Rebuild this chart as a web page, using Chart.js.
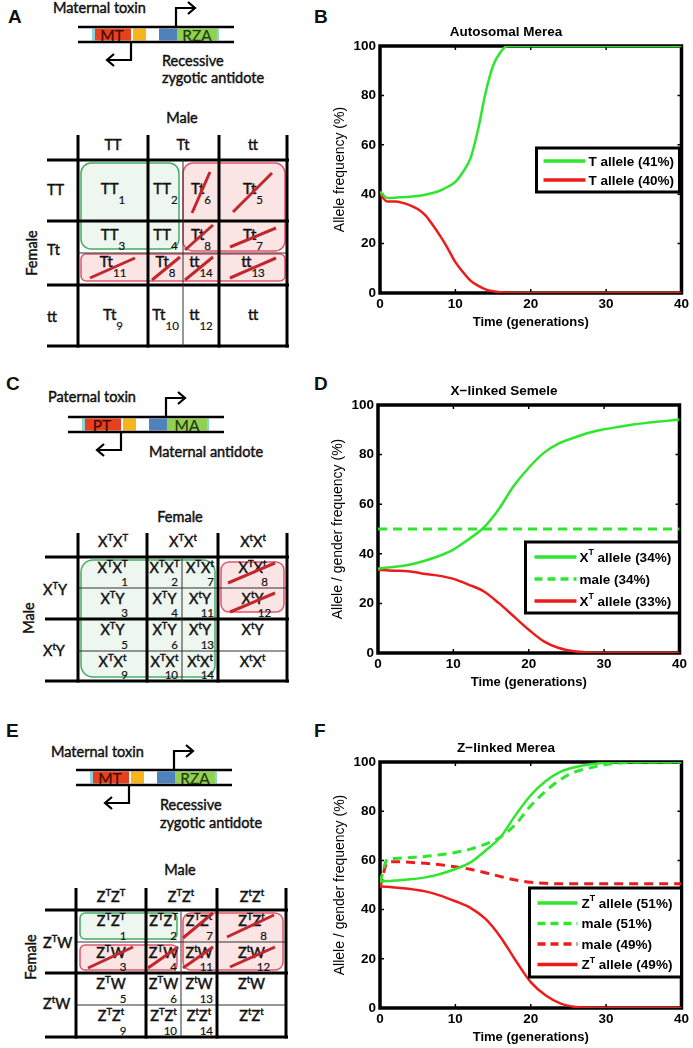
<!DOCTYPE html>
<html>
<head>
<meta charset="utf-8">
<script src="https://cdn.jsdelivr.net/npm/chart.js@4.4.0/dist/chart.umd.min.js"></script>
<style>
  body { margin: 0; background: #fff; width: 693px; height: 1048px; position: relative; overflow: hidden; }
  canvas { position: absolute; }
  #dia { position: absolute; left: 0; top: 0; }
</style>
</head>
<body>
<svg id="dia" width="340" height="1048" xmlns="http://www.w3.org/2000/svg"></svg>
<canvas id="chartB" width="362" height="316" style="left:330px;top:18px"></canvas>
<canvas id="chartD" width="362" height="317" style="left:328px;top:377px"></canvas>
<canvas id="chartF" width="362" height="315" style="left:330px;top:734px"></canvas>
<script>
// ---- values ----
const genB = [0, 1, 2, 3, 4, 5, 6, 7, 8, 9, 10, 11, 12, 13, 14, 15, 16, 17, 18, 19, 20, 25, 30, 35, 40];
const tAlleleB = [41, 38.5, 38.6, 38.8, 39, 39.3, 39.8, 40.5, 41.5, 43, 45, 49, 54.5, 66, 81, 92, 97.6, 100, 100, 100, 100, 100, 100, 100, 100];
const tAlleleB2 = [40, 37, 37, 36.5, 35.5, 34, 31.5, 27.5, 23, 18, 12.5, 8.5, 5, 3, 1.5, 0.7, 0.3, 0.1, 0, 0, 0, 0, 0, 0, 0];

const genD = [0, 2, 4, 6, 8, 10, 12, 14, 16, 18, 20, 22, 24, 26, 28, 30, 32, 34, 36, 38, 40];
const xAlleleD = [34, 34.7, 35.5, 37, 39, 41.7, 45.8, 50.5, 57.9, 67.3, 74.7, 80.7, 84.5, 86.8, 88.8, 90.2, 91.2, 92.2, 92.9, 93.5, 94.2];
const maleD = [50, 50, 50, 50, 50, 50, 50, 50, 50, 50, 50, 50, 50, 50, 50, 50, 50, 50, 50, 50, 50];
const xAlleleD2 = [33.6, 33.2, 33, 32, 31.2, 29.9, 27.6, 24.9, 20.2, 14.8, 9.4, 4.7, 2, 0.7, 0.2, 0, 0, 0, 0, 0, 0];

const genF = [0, 1, 2, 4, 6, 8, 10, 12, 14, 16, 18, 20, 22, 24, 26, 28, 30, 32, 34, 36, 38, 40];
const zAlleleF = [51.4, 51.6, 51.8, 52.3, 53.1, 54.5, 56.5, 59.2, 64, 69.5, 78.5, 86.5, 92.3, 96.1, 98, 99.1, 99.7, 100, 100, 100, 100, 100];
const maleF = [51, 60.5, 60.8, 61.2, 61.6, 62.3, 63.2, 64.6, 66.6, 69.5, 74.7, 82.2, 88.2, 93, 96.1, 97.7, 99, 99.6, 100, 100, 100, 100];
const maleF2 = [49, 59.2, 59.5, 59.2, 58.8, 58.2, 57.4, 56.4, 55, 53.4, 52, 51.1, 50.7, 50.5, 50.5, 50.5, 50.5, 50.5, 50.5, 50.5, 50.5, 50.5];
const zAlleleF2 = [49.5, 49.3, 49, 48.4, 47.4, 45.7, 43.4, 40.7, 36.2, 28.8, 19.3, 10.5, 5.1, 1.8, 0.4, 0.1, 0, 0, 0, 0, 0, 0];

const xTicks = [0, 10, 20, 30, 40];
const yTicks = [0, 20, 40, 60, 80, 100];

const labelsB = ['T allele (41%)', 'T allele (40%)'];
const labelsD = ['X^T allele (34%)', 'male (34%)', 'X^T allele (33%)'];
const labelsF = ['Z^T allele (51%)', 'male (51%)', 'male (49%)', 'Z^T allele (49%)'];

const GREEN = '#2ee62e';
const RED = '#ee1b1b';
const AX = 'Liberation Sans, Arial, sans-serif';

// text with ^X superscripts on a canvas
function richCanvas(ctx, s, x, y, size) {
  let cx = x;
  for (let i = 0; i < s.length; i++) {
    if (s[i] === '^') {
      ctx.font = 'bold ' + (size * 0.65) + 'px ' + AX;
      ctx.fillText(s[i + 1], cx, y - size * 0.4);
      cx += ctx.measureText(s[i + 1]).width;
      i++;
    } else {
      let j = i;
      while (j < s.length && s[j] !== '^') j++;
      const seg = s.slice(i, j);
      ctx.font = 'bold ' + size + 'px ' + AX;
      ctx.fillText(seg, cx, y);
      cx += ctx.measureText(seg).width;
      i = j - 1;
    }
  }
}

const framePlugin = {
  id: 'frame',
  beforeDatasetsDraw(chart) {
    const { ctx, chartArea: a, scales } = chart;
    ctx.save();
    ctx.strokeStyle = '#000';
    ctx.lineWidth = 3.5;
    ctx.strokeRect(a.left, a.top, a.right - a.left, a.bottom - a.top);
    ctx.lineWidth = 1.5;
    ctx.beginPath();
    scales.x.ticks.forEach(t => {
      const p = scales.x.getPixelForValue(t.value);
      ctx.moveTo(p, a.bottom); ctx.lineTo(p, a.bottom - 4);
      ctx.moveTo(p, a.top); ctx.lineTo(p, a.top + 4);
    });
    scales.y.ticks.forEach(t => {
      const p = scales.y.getPixelForValue(t.value);
      ctx.moveTo(a.left, p); ctx.lineTo(a.left + 4, p);
      ctx.moveTo(a.right, p); ctx.lineTo(a.right - 4, p);
    });
    ctx.stroke();
    ctx.restore();
  },
  afterDatasetsDraw(chart, args, o) {
    const { ctx, chartArea: a } = chart;
    const bx = a.right + o.left, by = a.top + o.top;
    ctx.save();
    ctx.fillStyle = '#fff';
    ctx.fillRect(bx, by, o.width, o.height);
    ctx.strokeStyle = '#000';
    ctx.lineWidth = 3;
    ctx.strokeRect(bx, by, o.width, o.height);
    chart.data.datasets.forEach((ds, i) => {
      const y = by + o.rows[i];
      ctx.strokeStyle = ds.borderColor;
      ctx.lineWidth = 3.5;
      ctx.setLineDash(ds.borderDash.length ? [8, 5] : []);
      ctx.beginPath();
      ctx.moveTo(bx + o.lineFrom, y);
      ctx.lineTo(bx + o.lineTo, y);
      ctx.stroke();
      ctx.setLineDash([]);
      ctx.fillStyle = '#000';
      ctx.textBaseline = 'middle';
      richCanvas(ctx, ds.label, bx + o.textX, y + 1, 13.5);
    });
    ctx.restore();
  }
};

function series(gen, vals, label, color, dash) {
  return {
    label: label,
    data: gen.map((g, i) => ({ x: g, y: vals[i] })),
    borderColor: color,
    borderWidth: dash ? 3 : 2.5,
    borderDash: dash || [],
    pointRadius: 0,
    fill: false,
    cubicInterpolationMode: 'monotone'
  };
}

function makeChart(id, title, yTitle, datasets, box) {
  new Chart(document.getElementById(id), {
    type: 'line',
    data: { datasets: datasets },
    plugins: [framePlugin],
    options: {
      responsive: false,
      animation: false,
      layout: { padding: { right: 10 } },
      plugins: {
        legend: { display: false },
        tooltip: { enabled: false },
        title: {
          display: true, text: title, color: '#000',
          font: { family: AX, size: 13.5, weight: 'bold' },
          padding: { top: 6, bottom: 5.8 }
        },
        frame: box
      },
      scales: {
        x: {
          type: 'linear', min: 0, max: 40,
          afterBuildTicks: s => { s.ticks = xTicks.map(v => ({ value: v })); },
          ticks: { color: '#000', font: { family: AX, size: 13.5, weight: 'bold' }, padding: 3, maxRotation: 0 },
          grid: { display: false, drawTicks: false },
          border: { display: false },
          title: { display: true, text: 'Time (generations)', color: '#000', font: { family: AX, size: 13, weight: 'bold' }, padding: { top: 0, bottom: 4 } },
          afterFit: s => { s.height = 41; }
        },
        y: {
          min: 0, max: 100,
          afterBuildTicks: s => { s.ticks = yTicks.map(v => ({ value: v })); },
          ticks: { color: '#000', font: { family: AX, size: 13.5, weight: 'bold' }, padding: 4 },
          grid: { display: false, drawTicks: false },
          border: { display: false },
          title: { display: true, text: yTitle, color: '#000', font: { family: AX, size: 14 }, padding: { top: 1.5, bottom: 0 } },
          afterFit: s => { s.width = 50; }
        }
      }
    }
  });
}

makeChart('chartB', 'Autosomal Merea', 'Allele frequency (%)', [
  series(genB, tAlleleB, labelsB[0], GREEN),
  series(genB, tAlleleB2, labelsB[1], RED)
], { left: -145, top: 102, width: 143, height: 44, rows: [13, 32], lineFrom: 7, lineTo: 49, textX: 52 });

makeChart('chartD', 'X\u2212linked Semele', 'Allele / gender frequency (%)', [
  series(genD, xAlleleD, labelsD[0], GREEN),
  series(genD, maleD, labelsD[1], GREEN, [9, 6]),
  series(genD, xAlleleD2, labelsD[2], RED)
], { left: -154, top: 137, width: 154, height: 71, rows: [15, 37, 59], lineFrom: 9, lineTo: 51, textX: 54 });

makeChart('chartF', 'Z\u2212linked Merea', 'Allele / gender frequency (%)', [
  series(genF, zAlleleF, labelsF[0], GREEN),
  series(genF, maleF, labelsF[1], GREEN, [9, 6]),
  series(genF, maleF2, labelsF[2], RED, [9, 6]),
  series(genF, zAlleleF2, labelsF[3], RED)
], { left: -152, top: 126, width: 152, height: 89, rows: [15, 35.5, 56, 76.5], lineFrom: 8, lineTo: 48, textX: 52 });

// ---- left-hand diagrams (SVG) ----
const S = [];
const FT = 'Lato, Open Sans, sans-serif';
const HEAVY = 'stroke="#111" stroke-width="0.45"';

function rich(s, sup) {
  let h = '', shift = 0;
  for (let i = 0; i < s.length; i++) {
    if (s[i] === '^') {
      h += '<tspan dy="' + (-6 - shift) + '" font-size="' + sup + '">' + s[i + 1] + '</tspan>';
      shift = -6; i++;
    } else {
      let j = i;
      while (j < s.length && s[j] !== '^') j++;
      h += '<tspan dy="' + (-shift) + '">' + s.slice(i, j) + '</tspan>';
      shift = 0; i = j - 1;
    }
  }
  return h;
}
function ln(x1, y1, x2, y2, w, c) {
  S.push('<line x1="' + x1 + '" y1="' + y1 + '" x2="' + x2 + '" y2="' + y2 + '" stroke="' + (c || '#000') + '" stroke-width="' + w + '"/>');
}
function tx(x, y, s, o) {
  o = o || {};
  const fill = o.fill || '#111';
  S.push('<text x="' + x + '" y="' + y + '" font-family="' + FT + '" font-size="' + (o.size || 14.5) + '" text-anchor="' + (o.anchor || 'start') +
    '" fill="' + fill + '" stroke="' + fill + '" stroke-width="' + (o.sw === undefined ? 0.45 : o.sw) + '">' + rich(s, o.sup || 9.5) + '</text>');
}
function letter(x, y, s) {
  S.push('<text x="' + x + '" y="' + y + '" font-family="' + AX + '" font-weight="bold" font-size="19" fill="#111">' + s + '</text>');
}
function rect(x, y, w, h, c) {
  S.push('<rect x="' + x + '" y="' + y + '" width="' + w + '" height="' + h + '" fill="' + c + '"/>');
}
function rr(x1, y1, x2, y2, r, kind) {
  const c = kind === 'g' ? ['#44ad63', '#eef6f0'] : ['#e0566b', '#fbe4e4'];
  S.push('<rect x="' + x1 + '" y="' + y1 + '" width="' + (x2 - x1) + '" height="' + (y2 - y1) + '" rx="' + r + '" fill="' + c[1] + '" stroke="' + c[0] + '" stroke-width="1.5"/>');
}
function slash(x1, y1, x2, y2) { ln(x1, y1, x2, y2, 3, '#c1272d'); }
function rot(x, y, s) {
  S.push('<text x="' + x + '" y="' + y + '" font-family="' + FT + '" font-size="14.5" text-anchor="middle" dominant-baseline="central" fill="#111" ' + HEAVY + ' transform="rotate(-90 ' + x + ' ' + y + ')">' + s + '</text>');
}
function gene(x0, y0, tox, anti) {
  const yt = y0 + 1.5, h = 12;
  rect(x0 + 14, yt, 3, h, '#8fd3e0');
  rect(x0 + 17, yt, 36, h, '#e8401c');
  rect(x0 + 55, yt, 13, h, '#f7b51b');
  rect(x0 + 81, yt, 18, h, '#4f81bd');
  rect(x0 + 99, yt, 40, h, '#92d050');
  rect(x0 + 139, yt, 2, h, '#8fd3e0');
  ln(x0, y0, x0 + 156, y0, 2.5);
  ln(x0, y0 + 15, x0 + 156, y0 + 15, 2.5);
  tx(x0 + 34, y0 + 14, tox, { anchor: 'middle', fill: '#3a0a0a', size: 15.5, sw: 0.2 });
  tx(x0 + 119, y0 + 14, anti, { anchor: 'middle', fill: '#1e3b0e', size: 15.5, sw: 0.2 });
  S.push('<path d="M' + (x0 + 98) + ' ' + y0 + ' V' + (y0 - 19) + ' H' + (x0 + 116) + '" fill="none" stroke="#000" stroke-width="2.2"/>');
  S.push('<path d="M' + (x0 + 110) + ' ' + (y0 - 25) + ' L' + (x0 + 117) + ' ' + (y0 - 19) + ' L' + (x0 + 110) + ' ' + (y0 - 13) + '" fill="none" stroke="#000" stroke-width="2.2"/>');
  S.push('<path d="M' + (x0 + 53) + ' ' + (y0 + 15) + ' V' + (y0 + 33) + ' H' + (x0 + 30) + '" fill="none" stroke="#000" stroke-width="2.2"/>');
  S.push('<path d="M' + (x0 + 36) + ' ' + (y0 + 27) + ' L' + (x0 + 29) + ' ' + (y0 + 33) + ' L' + (x0 + 36) + ' ' + (y0 + 39) + '" fill="none" stroke="#000" stroke-width="2.2"/>');
}
function cen(cols, i) { return (cols[i] + cols[i + 1]) / 2; }
function subCell(cols, i, y, s, n) {
  S.push('<text x="' + cen(cols, i) + '" y="' + y + '" text-anchor="middle" font-family="' + FT + '" font-size="15" fill="#111" ' + HEAVY + '>' + s +
    (n ? '<tspan dy="10" font-size="11.5" stroke-width="0.2">' + n + '</tspan>' : '') + '</text>');
}
function cornerCell(cols, i, top, bot, s, n) {
  tx(cen(cols, i), top + 16, s, { anchor: 'middle' });
  if (n) {
    if (i === 0 || i === 3) tx(cen(cols, i) + 12, bot - 2, n, { anchor: 'middle', size: 11.5, sw: 0.2 });
    else tx(cols[i + 1] - 4, bot - 2, n, { anchor: 'end', size: 11.5, sw: 0.2 });
  }
}
function grid(cols, top, head, rowsThick, rowsThin, left) {
  const last = rowsThick[rowsThick.length - 1];
  rowsThick.forEach(y => ln(left, y, cols[4] + 2, y, 3));
  rowsThin.forEach(y => ln(cols[0], y, cols[4], y, 1, '#333'));
  [0, 1, 3, 4].forEach(i => ln(cols[i], top, cols[i], last + 1.5, 3));
  ln(cols[2], head, cols[2], last, 1, '#333');
}

// panel letters
letter(8, 23, 'A'); letter(314, 23, 'B');
letter(6, 390, 'C'); letter(314, 390, 'D');
letter(6, 737, 'E'); letter(314, 737, 'F');

// ---- A ----
tx(53, 13, 'Maternal toxin');
gene(78, 27, 'MT', 'RZA');
tx(162, 66, 'Recessive');
tx(162, 83, 'zygotic antidote');
tx(182, 123, 'Male', { anchor: 'middle' });
const colsA = [78, 148, 183, 219, 287];
rr(81, 163, 179, 249, 10, 'g');
rr(183, 163, 285, 251, 10, 'r');
rr(81, 254, 285, 281, 5, 'r');
grid(colsA, 135, 160, [160, 221, 285, 346], [253], 47);
tx(113, 150, 'TT', { anchor: 'middle' }); tx(183, 150, 'Tt', { anchor: 'middle' }); tx(253, 150, 'tt', { anchor: 'middle' });
tx(47, 195, 'TT'); tx(47, 255, 'Tt'); tx(47, 322, 'tt');
rot(31, 253, 'Female');
subCell(colsA, 0, 194, 'TT', '1'); subCell(colsA, 1, 194, 'TT', '2'); subCell(colsA, 2, 194, 'Tt', '6'); subCell(colsA, 3, 194, 'Tt', '5');
subCell(colsA, 0, 240, 'TT', '3'); subCell(colsA, 1, 240, 'TT', '4'); subCell(colsA, 2, 240, 'Tt', '8'); subCell(colsA, 3, 240, 'Tt', '7');
subCell(colsA, 0, 267, 'Tt', '11'); subCell(colsA, 1, 267, 'Tt', '8'); subCell(colsA, 2, 267, 'tt', '14'); subCell(colsA, 3, 267, 'tt', '13');
subCell(colsA, 0, 320, 'Tt', '9'); subCell(colsA, 1, 320, 'Tt', '10'); subCell(colsA, 2, 320, 'tt', '12'); subCell(colsA, 3, 320, 'tt', '');
slash(192, 213, 210, 172); slash(233, 212, 272, 173);
slash(185, 250, 213, 225); slash(230, 247, 276, 228);
slash(90, 278, 135, 258); slash(152, 280, 180, 257); slash(185, 280, 213, 257); slash(230, 278, 276, 258);

// ---- C ----
tx(48, 402, 'Paternal toxin');
gene(68, 417, 'PT', 'MA');
tx(149, 457, 'Maternal antidote');
tx(180, 522, 'Female', { anchor: 'middle' });
const colsC = [78, 147, 182, 218, 287];
rr(81, 560, 215, 677, 12, 'g');
rr(221, 562, 284, 612, 8, 'r');
grid(colsC, 533, 557, [557, 619, 681], [588, 651], 45);
tx(113, 547, 'X^TX^T', { anchor: 'middle' }); tx(183, 547, 'X^TX^t', { anchor: 'middle' }); tx(253, 547, 'X^tX^t', { anchor: 'middle' });
tx(43, 595, 'X^TY'); tx(43, 656, 'X^tY');
rot(28, 618, 'Male');
const rowsC = [557, 588, 619, 651, 681];
const cellsC = [
  ['X^TX^T', '1', 'X^TX^T', '2', 'X^TX^t', '7', 'X^TX^t', '8'],
  ['X^TY', '3', 'X^TY', '4', 'X^tY', '11', 'X^tY', '12'],
  ['X^TY', '5', 'X^TY', '6', 'X^tY', '13', 'X^tY', ''],
  ['X^TX^t', '9', 'X^TX^t', '10', 'X^tX^t', '14', 'X^tX^t', '']
];
cellsC.forEach((r, ri) => { for (let c = 0; c < 4; c++) cornerCell(colsC, c, rowsC[ri], rowsC[ri + 1], r[c * 2], r[c * 2 + 1]); });
slash(228, 583, 275, 563); slash(230, 612, 275, 593);

// ---- E ----
tx(51, 757, 'Maternal toxin');
gene(76, 770, 'MT', 'RZA');
tx(160, 810, 'Recessive');
tx(160, 828, 'zygotic antidote');
tx(180, 875, 'Male', { anchor: 'middle' });
const colsE = [76, 146, 181, 217, 286];
rr(80, 913, 177, 939, 5, 'g');
rr(80, 945, 177, 970, 5, 'r');
rr(183, 913, 283, 970, 8, 'r');
grid(colsE, 888, 910, [910, 973, 1037], [942, 1005], 45);
tx(111, 902, 'Z^TZ^T', { anchor: 'middle' }); tx(181, 902, 'Z^TZ^t', { anchor: 'middle' }); tx(252, 902, 'Z^tZ^t', { anchor: 'middle' });
tx(43, 948, 'Z^TW'); tx(43, 1009, 'Z^tW');
rot(30, 957, 'Female');
const rowsE = [910, 942, 973, 1005, 1037];
const cellsE = [
  ['Z^TZ^T', '1', 'Z^TZ^T', '2', 'Z^TZ^t', '7', 'Z^TZ^t', '8'],
  ['Z^TW', '3', 'Z^TW', '4', 'Z^tW', '11', 'Z^tW', '12'],
  ['Z^TW', '5', 'Z^TW', '6', 'Z^tW', '13', 'Z^tW', ''],
  ['Z^TZ^t', '9', 'Z^TZ^t', '10', 'Z^tZ^t', '14', 'Z^tZ^t', '']
];
cellsE.forEach((r, ri) => { for (let c = 0; c < 4; c++) cornerCell(colsE, c, rowsE[ri], rowsE[ri + 1], r[c * 2], r[c * 2 + 1]); });
slash(183, 938, 213, 913); slash(227, 937, 274, 915);
slash(88, 968, 133, 947); slash(148, 968, 178, 947); slash(183, 968, 213, 947); slash(230, 967, 275, 947);

document.getElementById('dia').innerHTML = S.join('');
</script>
</body>
</html>
